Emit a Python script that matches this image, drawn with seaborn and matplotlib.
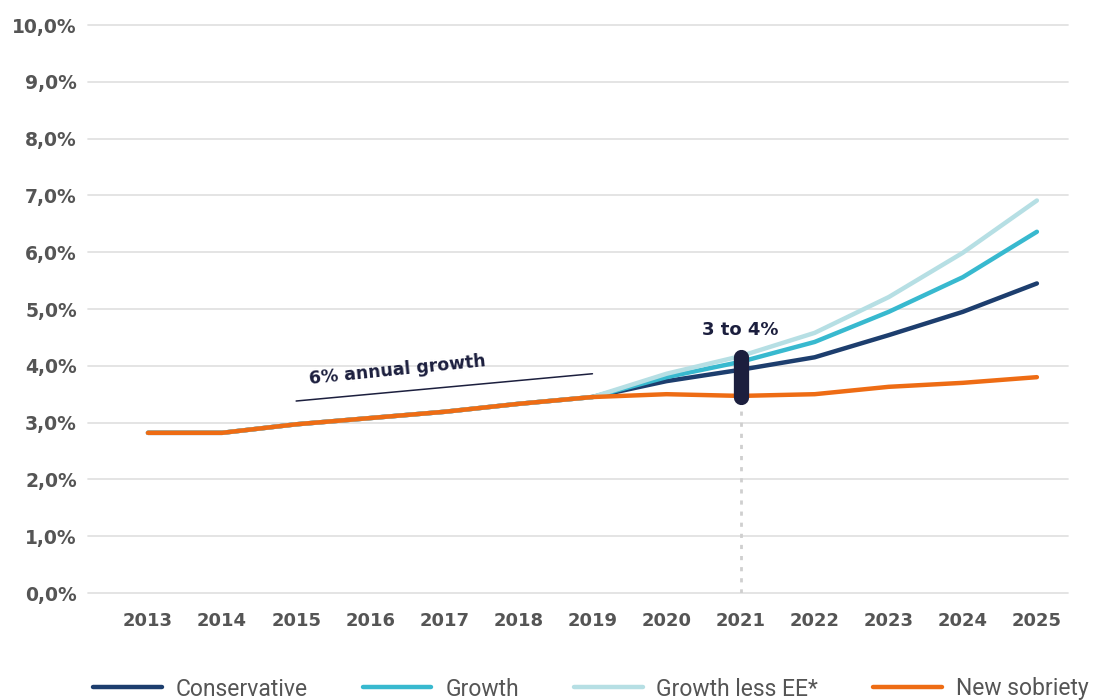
import pandas as pd
import matplotlib.pyplot as plt
import seaborn as sns

# =============================
# DATA
# =============================
years = list(range(2013, 2026))
conservative = [2.82, 2.82, 2.97, 3.08, 3.19, 3.33, 3.45, 3.73, 3.93, 4.15, 4.54, 4.95, 5.45]
growth = [2.82, 2.82, 2.97, 3.08, 3.19, 3.33, 3.45, 3.80, 4.07, 4.42, 4.95, 5.56, 6.36]
growth_less_ee = [2.82, 2.82, 2.97, 3.08, 3.19, 3.33, 3.45, 3.86, 4.17, 4.58, 5.21, 5.99, 6.91]
new_sobriety = [2.82, 2.82, 2.97, 3.08, 3.19, 3.33, 3.45, 3.50, 3.47, 3.50, 3.63, 3.70, 3.80]

series_names = ["Conservative", "Growth", "Growth less EE*", "New sobriety"]
series_colors = ["#1d3e6e", "#38b9cf", "#b6dfe4", "#ee6c14"]

y_ticks = [i for i in range(0, 11)]
y_tick_labels = ["%d,0%%" % i for i in y_ticks]

df = pd.DataFrame({
    "year": years * 4,
    "value": conservative + growth + growth_less_ee + new_sobriety,
    "scenario": sum([[n] * len(years) for n in series_names], []),
})

# =============================
# PLOT
# =============================
sns.set_style("white")
plt.rcParams["font.family"] = ["DejaVu Sans"]

fig = plt.figure(figsize=(10.94, 7), dpi=100)
ax = fig.add_axes([88 / 1094, 107 / 700, 980 / 1094, 568 / 700])

for v in y_ticks:
    ax.axhline(v, color="#e2e2e2", lw=1.3, zorder=0, clip_on=False)

sns.lineplot(data=df, x="year", y="value", hue="scenario", hue_order=series_names,
             palette=series_colors, lw=3.2, ax=ax, legend=True)
for line in ax.lines:
    line.set_solid_capstyle("round")

# dotted guide + range bar at 2021
ax.plot([2021, 2021], [0, 3.4], color="#cfcfcf", lw=2, ls=(0, (1.5, 2.5)), zorder=1)
ax.plot([2021, 2021], [3.45, 4.15], color="#1c1f3e", lw=11, solid_capstyle="round", zorder=5)
ax.text(2021, 4.63, "3 to 4%", ha="center", va="center", fontsize=13,
        fontweight="bold", color="#1c1f3e")

# 6% annual growth annotation
ax.plot([2015.0, 2019.0], [3.38, 3.86], color="#1c1f3e", lw=1.1)
ax.text(2016.37, 3.92, "6% annual growth", ha="center", va="center", fontsize=12.5,
        fontweight="bold", color="#1c1f3e", rotation=5.8)

ax.set_xlim(2012.19, 2025.42)
ax.set_ylim(0, 10)
ax.set_xticks(years)
ax.set_xticklabels([str(y) for y in years], fontsize=13, fontweight="bold", color="#555555")
ax.set_yticks(y_ticks)
ax.set_yticklabels(y_tick_labels, fontsize=13.5, fontweight="bold", color="#555555")
ax.tick_params(length=0, pad=8)
ax.tick_params(axis="x", pad=14)
ax.set_xlabel("")
ax.set_ylabel("")
sns.despine(ax=ax, left=True, bottom=True)

handles, labels = ax.get_legend_handles_labels()
ax.get_legend().remove()
for h in handles:
    h.set_linewidth(3.2)
    h.set_solid_capstyle("round")
leg = fig.legend(handles, labels, loc="center", bbox_to_anchor=(0.54, 11 / 700), ncol=4,
                 frameon=False, handlelength=3.0, handletextpad=0.6,
                 columnspacing=2.4, labelcolor="#555555",
                 prop={"family": ["Roboto", "DejaVu Sans"], "size": 16.5})

plt.savefig("out.png", dpi=100)
